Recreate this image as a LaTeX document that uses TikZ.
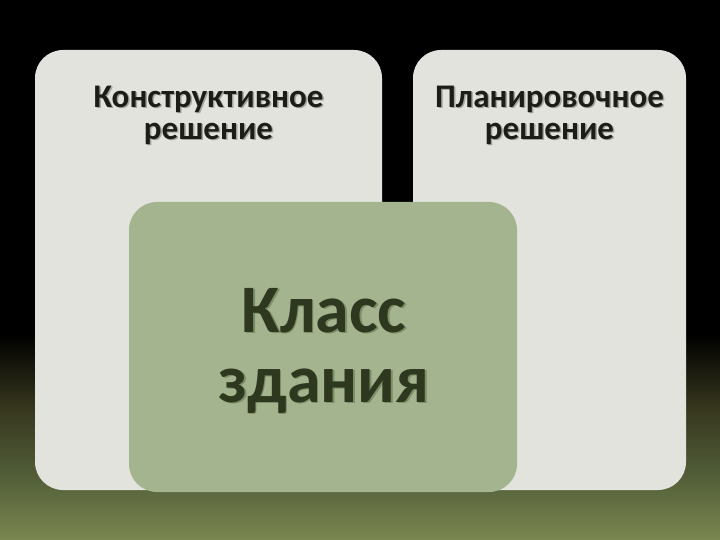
\documentclass[tikz,border=0pt]{standalone}
\usepackage{fontspec}
\setmainfont{Carlito}
\usetikzlibrary{positioning}

\definecolor{paneGray}{HTML}{E1E3DC}
\definecolor{paneGreen}{HTML}{A4B48F}
\definecolor{inkDark}{HTML}{1C1C18}
\definecolor{inkGreen}{HTML}{2E381E}
\definecolor{shadeGray}{HTML}{A3A59C}
\definecolor{shadeGreen}{HTML}{7E8E68}
\definecolor{bgOlive}{HTML}{7B8750}
\definecolor{bgMoss}{HTML}{4E5A36}
\definecolor{bgBrown}{HTML}{38381F}

% the path is mapped onto 25bp--75bp of the shading
\pgfdeclareverticalshading{bgfade}{100bp}{color(0bp)=(bgOlive); color(25bp)=(bgOlive); color(31.5bp)=(bgMoss); color(37bp)=(bgBrown); color(44bp)=(black); color(100bp)=(black)}

% text with a soft shadow behind it
\newcommand{\shadowed}[2]{\leavevmode\rlap{\hspace{1.5pt}\raisebox{-1.5pt}{\color{#1}#2}}#2}
\newcommand{\twolines}[2]{\begin{tabular}{@{}c@{}}#1\\#2\end{tabular}}

\tikzset{
  pane/.style={rectangle, rounded corners=28pt, inner sep=0pt},
  label/.style={inner sep=0pt, text=inkDark, font=\fontsize{33}{32}\selectfont\bfseries},
  biglabel/.style={inner sep=0pt, text=inkGreen, font=\fontsize{68}{70}\selectfont\bfseries}
}

\begin{document}
\begin{tikzpicture}[x=1pt, y=-1pt]
        \useasboundingbox (0,0) rectangle (720,540);
        \shade[shading=bgfade] (0,0) rectangle (720,540);

        \node[pane, fill=paneGray, minimum width=347pt, minimum height=440pt] (leftpane) at (208.5,270) {};
        \node[pane, fill=paneGray, minimum width=273pt, minimum height=440pt] (rightpane) at (549.5,270) {};
        \node[pane, fill=paneGreen, minimum width=388pt, minimum height=290pt] (classpane) at (323,347) {};

        \node[label] (leftlabel) at (208.5,117.6) {\shadowed{shadeGray}{\twolines{Конструктивное}{решение}}};
        \node[label] (rightlabel) at (549.5,117.6) {\shadowed{shadeGray}{\twolines{Планировочное}{решение}}};
        \node[biglabel] (classlabel) at (324,354) {\shadowed{shadeGreen}{\twolines{Класс}{здания}}};
      \end{tikzpicture}
\end{document}
